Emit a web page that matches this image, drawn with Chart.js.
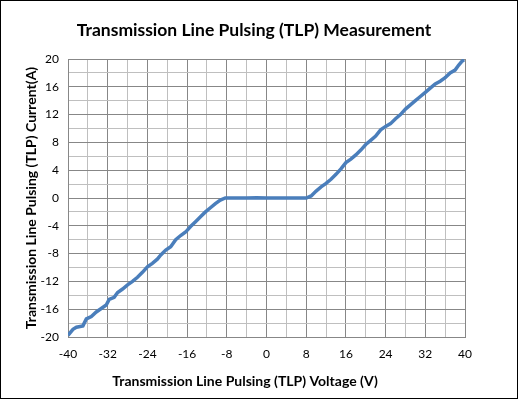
<!DOCTYPE html>
<html lang="en">
<head>
    <meta charset="UTF-8">
    <title>TLP Measurement</title>
    <style>
        body {
            margin: 0;
            background-color: #ffffff;
        }

        .frame {
            width: 518px;
            height: 399px;
            box-sizing: border-box;
            border: 1px solid #000000;
            position: relative;
        }

        #tlpChart {
            display: block;
        }
    </style>
</head>
<body>

<div class="frame">
    <canvas id="tlpChart" width="516" height="397"></canvas>
</div>

<script src="https://cdn.jsdelivr.net/npm/chart.js"></script>
<script>
    // TLP curve
    const voltage = [-40, -39, -38.3, -37, -36.3, -35.3, -34.3, -33.3, -32.3, -31.7, -30.7, -30, -29, -28, -27, -26, -25, -24,
        -23, -22, -21.3, -20.3, -19.3, -18.3, -17.3, -16.3, -15.3, -14.3, -13.3, -12.3, -11.3, -10.3, -9.3, -8.3,
        -6, -4, -2, 0, 2, 4, 6, 8, 9, 10, 11, 12, 13, 14, 15, 16, 17, 18, 19, 20, 21, 22, 23, 24, 25, 26, 27, 28,
        29, 30, 31, 32, 33, 34, 35, 36, 37, 38, 38.7, 39.3, 39.8];
    const current = [-19.75, -18.9, -18.6, -18.4, -17.4, -17.05, -16.4, -15.9, -15.4, -14.6, -14.3, -13.6, -13.1, -12.5, -12, -11.4, -10.7, -9.9,
        -9.4, -8.8, -8.2, -7.5, -7.0, -6.0, -5.4, -4.9, -4.1, -3.4, -2.7, -2.0, -1.4, -0.8, -0.3, 0,
        0, 0, 0.02, 0, 0, 0, 0, 0, 0.3, 1.0, 1.6, 2.1, 2.7, 3.4, 4.2, 5.1, 5.6, 6.2, 6.9, 7.7, 8.3, 8.9, 9.8, 10.3, 10.7, 11.4, 12.0, 12.8,
        13.4, 14.0, 14.6, 15.2, 15.8, 16.4, 16.8, 17.3, 18.0, 18.4, 19.1, 19.6, 19.9];

    const xTicks = [-40, -32, -24, -16, -8, 0, 8, 16, 24, 32, 40];
    const yTicks = [-20, -16, -12, -8, -4, 0, 4, 8, 12, 16, 20];

    const chartTitle = 'Transmission Line Pulsing (TLP) Measurement';
    const xTitle = 'Transmission Line Pulsing (TLP) Voltage (V)';
    const yTitle = 'Transmission Line Pulsing (TLP) Current(A)';

    const fontFamily = 'Lato, "Open Sans", sans-serif';
    const majorGrid = '#878787';
    const minorGrid = '#bfbfbf';

    const points = voltage.map((v, i) => ({x: v, y: current[i]}));

    // Excel-like titles at fixed spots
    const titlePlugin = {
        id: 'fixedTitles',
        afterDraw(chart) {
            const c = chart.ctx;
            c.save();
            c.fillStyle = '#000000';
            c.textAlign = 'center';
            c.textBaseline = 'middle';
            c.font = 'bold 17.5px ' + fontFamily;
            c.fillText(chartTitle, 253, 29);
            c.font = 'bold 14px ' + fontFamily;
            c.fillText(xTitle, 244, 380);
            c.translate(30, 197);
            c.rotate(-Math.PI / 2);
            c.fillText(yTitle, 0, 0);
            c.restore();
        }
    };

    const ctx = document.getElementById('tlpChart').getContext('2d');

    new Chart(ctx, {
        type: 'scatter',
        data: {
            datasets: [{
                data: points,
                showLine: true,
                borderColor: '#4a7ebb',
                borderWidth: 3.5,
                pointRadius: 0,
                tension: 0
            }]
        },
        options: {
            responsive: false,
            animation: false,
            layout: {
                padding: {left: 0, right: 52, top: 58, bottom: 0}
            },
            plugins: {
                legend: {display: false},
                tooltip: {enabled: false}
            },
            scales: {
                x: {
                    type: 'linear',
                    min: -40,
                    max: 40,
                    afterFit: (s) => { s.height = 61; },
                    afterBuildTicks: (s) => {
                        const t = [];
                        for (let v = -40; v <= 40; v += 4) t.push({value: v});
                        s.ticks = t;
                    },
                    ticks: {
                        padding: 10,
                        maxRotation: 0,
                        autoSkip: false,
                        color: '#000000',
                        font: {family: fontFamily, size: 12},
                        callback: (v) => xTicks.includes(v) ? String(v) : ''
                    },
                    grid: {
                        drawTicks: false,
                        color: (c) => xTicks.includes(c.tick.value) ? majorGrid : minorGrid
                    },
                    border: {color: majorGrid}
                },
                y: {
                    type: 'linear',
                    min: -20,
                    max: 20,
                    afterFit: (s) => { s.width = 67; },
                    afterBuildTicks: (s) => {
                        const t = [];
                        for (let v = -20; v <= 20; v += 2) t.push({value: v});
                        s.ticks = t;
                    },
                    ticks: {
                        padding: 9,
                        autoSkip: false,
                        color: '#000000',
                        font: {family: fontFamily, size: 12},
                        callback: (v) => yTicks.includes(v) ? String(v) : ''
                    },
                    grid: {
                        drawTicks: false,
                        color: (c) => yTicks.includes(c.tick.value) ? majorGrid : minorGrid
                    },
                    border: {color: majorGrid}
                }
            }
        },
        plugins: [titlePlugin]
    });
</script>

</body>
</html>
